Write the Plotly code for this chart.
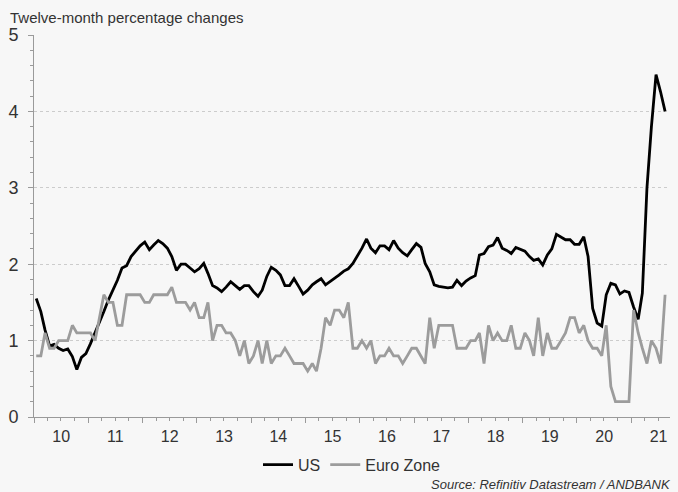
import pandas as pd
import plotly.graph_objects as go

# Monthly observations, Jan 2010 - Aug 2021
months = pd.date_range("2010-01-01", periods=140, freq="MS") + pd.Timedelta(days=15)

us = [
    1.55, 1.38, 1.14, 0.93, 0.95, 0.90, 0.87, 0.89, 0.79, 0.62, 0.78, 0.83,
    0.96, 1.10, 1.23, 1.38, 1.53, 1.66, 1.79, 1.95, 1.98, 2.10, 2.17, 2.24,
    2.29, 2.19, 2.25, 2.31, 2.27, 2.21, 2.10, 1.92, 2.00, 2.00, 1.95, 1.90,
    1.94, 2.01, 1.88, 1.72, 1.69, 1.64, 1.70, 1.77, 1.72, 1.67, 1.72, 1.72,
    1.64, 1.58, 1.66, 1.84, 1.96, 1.92, 1.86, 1.72, 1.72, 1.81, 1.71, 1.61,
    1.66, 1.73, 1.77, 1.81, 1.73, 1.77, 1.82, 1.86, 1.91, 1.94, 2.01, 2.10,
    2.21, 2.33, 2.21, 2.15, 2.24, 2.24, 2.19, 2.31, 2.21, 2.15, 2.11, 2.19,
    2.27, 2.22, 2.01, 1.90, 1.73, 1.71, 1.70, 1.69, 1.70, 1.79, 1.72, 1.78,
    1.82, 1.85, 2.12, 2.14, 2.23, 2.25, 2.35, 2.21, 2.18, 2.14, 2.22, 2.19,
    2.17, 2.10, 2.05, 2.07, 1.99, 2.12, 2.20, 2.39, 2.36, 2.32, 2.32, 2.26,
    2.26, 2.36, 2.10, 1.42, 1.23, 1.19, 1.60, 1.75, 1.73, 1.61, 1.65, 1.63,
    1.44, 1.28, 1.62, 3.00, 3.80, 4.48, 4.26, 4.00,
]

euro_zone = [
    0.8, 0.8, 1.1, 0.9, 0.9, 1.0, 1.0, 1.0, 1.2, 1.1, 1.1, 1.1,
    1.1, 1.0, 1.3, 1.6, 1.5, 1.5, 1.2, 1.2, 1.6, 1.6, 1.6, 1.6,
    1.5, 1.5, 1.6, 1.6, 1.6, 1.6, 1.7, 1.5, 1.5, 1.5, 1.4, 1.5,
    1.3, 1.3, 1.5, 1.0, 1.2, 1.2, 1.1, 1.1, 1.0, 0.8, 1.0, 0.7,
    0.8, 1.0, 0.7, 1.0, 0.7, 0.8, 0.8, 0.9, 0.8, 0.7, 0.7, 0.7,
    0.6, 0.7, 0.6, 0.9, 1.3, 1.2, 1.4, 1.4, 1.3, 1.5, 0.9, 0.9,
    1.0, 0.9, 1.0, 0.7, 0.8, 0.8, 0.9, 0.8, 0.8, 0.7, 0.8, 0.9,
    0.9, 0.8, 0.7, 1.3, 0.9, 1.2, 1.2, 1.2, 1.2, 0.9, 0.9, 0.9,
    1.0, 1.0, 1.1, 0.7, 1.2, 1.0, 1.1, 1.0, 1.0, 1.2, 0.9, 0.9,
    1.1, 1.0, 0.8, 1.3, 0.8, 1.1, 0.9, 0.9, 1.0, 1.1, 1.3, 1.3,
    1.1, 1.2, 1.0, 0.9, 0.9, 0.8, 1.2, 0.4, 0.2, 0.2, 0.2, 0.2,
    1.4, 1.1, 0.9, 0.7, 1.0, 0.9, 0.7, 1.6,
]

series_names = ["US", "Euro Zone"]
title_text = "Twelve-month percentage changes"
source_text = "Source: Refinitiv Datastream / ANDBANK"

FONT = "Liberation Sans, Arial, sans-serif"
BG = "#f7f7f7"
AXIS = "#9a9a9a"
TXT = "#333333"

fig = go.Figure()
fig.add_trace(go.Scatter(x=months, y=us, mode="lines", name=series_names[0],
                         line=dict(color="#000000", width=2.8)))
fig.add_trace(go.Scatter(x=months, y=euro_zone, mode="lines", name=series_names[1],
                         line=dict(color="#9c9c9c", width=2.8)))

fig.update_layout(
    width=678, height=492,
    margin=dict(l=34, r=8, t=35, b=75),
    paper_bgcolor=BG, plot_bgcolor=BG,
    font=dict(family=FONT, color=TXT),
    showlegend=True,
    legend=dict(orientation="h", x=0.5, xanchor="center", y=-0.125, yanchor="middle",
                font=dict(size=16, color=TXT), bgcolor="rgba(0,0,0,0)"),
    xaxis=dict(
        type="date", range=["2010-01-01", "2021-09-18"],
        tick0="2010-01-01", dtick="M12", ticklabelmode="period", tickformat="%y",
        ticks="outside", ticklen=5, tickcolor=AXIS, showline=True, linecolor=AXIS,
        showgrid=False, zeroline=False, tickfont=dict(size=16, color=TXT),
        minor=dict(dtick="M3", ticks="outside", ticklen=3, tickcolor=AXIS, showgrid=False),
    ),
    yaxis=dict(
        range=[0, 5], dtick=1, tick0=0,
        ticks="outside", ticklen=5, tickcolor=AXIS, showline=True, linecolor=AXIS,
        showgrid=True, gridcolor="#cccccc", griddash="dot", gridwidth=1, zeroline=False,
        tickfont=dict(size=18, color=TXT), ticklabelstandoff=6,
        minor=dict(dtick=0.2, ticks="outside", ticklen=3, tickcolor=AXIS, showgrid=False),
    ),
    annotations=[
        dict(text=title_text, xref="paper", yref="paper", x=-0.041, y=1.047,
             xanchor="left", yanchor="middle", showarrow=False,
             font=dict(size=15, color=TXT)),
        dict(text="<i>" + source_text + "</i>", xref="paper", yref="paper", x=1.005, y=-0.178,
             xanchor="right", yanchor="middle", showarrow=False,
             font=dict(size=13, color=TXT)),
    ],
)

fig.write_html(
    "out.html",
    config={"displayModeBar": False},
    post_script="document.body.style.margin='0';document.body.style.background='%s';" % BG,
)
